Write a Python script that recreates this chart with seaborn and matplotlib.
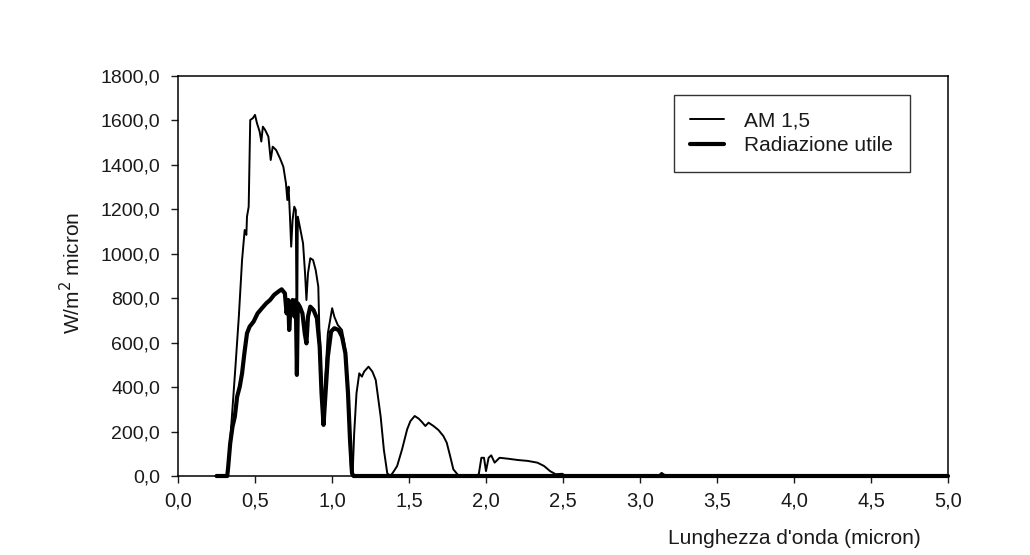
import numpy as np
import pandas as pd
import matplotlib
matplotlib.use("Agg")
import matplotlib.pyplot as plt
from matplotlib.ticker import FuncFormatter
import seaborn as sns

# Solar spectrum AM 1,5 (W/m^2 micron) against wavelength (micron)
am15_wl = [0.25, 0.30, 0.32, 0.33, 0.35, 0.373, 0.395, 0.416, 0.433, 0.444, 0.448, 0.459,
           0.469, 0.486, 0.50, 0.513, 0.530, 0.541, 0.551, 0.566, 0.587, 0.602, 0.615,
           0.637, 0.662, 0.684, 0.701, 0.71, 0.718, 0.727, 0.735, 0.744, 0.755, 0.765,
           0.772, 0.778, 0.791, 0.812, 0.825, 0.834, 0.844, 0.859, 0.877, 0.894, 0.911,
           0.924, 0.941, 0.954, 0.973, 1.001, 1.015, 1.037, 1.065, 1.091, 1.108, 1.123,
           1.134, 1.144, 1.159, 1.177, 1.194, 1.209, 1.237, 1.262, 1.284, 1.316, 1.337,
           1.359, 1.38, 1.402, 1.423, 1.455, 1.488, 1.509, 1.537, 1.563, 1.584, 1.606,
           1.627, 1.659, 1.691, 1.723, 1.745, 1.767, 1.788, 1.82, 1.86, 1.93, 1.953,
           1.970, 1.987, 2.0, 2.017, 2.034, 2.056, 2.088, 2.141, 2.206, 2.27, 2.334,
           2.377, 2.416, 2.452, 2.495, 2.52, 3.05, 3.12, 3.14, 3.17, 3.22, 5.0]
am15_val = [0, 0, 0, 72, 267, 492, 717, 972, 1107, 1085, 1167, 1212,
            1602, 1610, 1625, 1587, 1550, 1505, 1572, 1557, 1527, 1422, 1482,
            1467, 1430, 1392, 1317, 1242, 1302, 1167, 1032, 1152, 1212, 1197,
            462, 1167, 1122, 1047, 912, 792, 912, 980, 972, 927, 852,
            492, 252, 417, 642, 755, 717, 680, 657, 552, 267, 27,
            12, 192, 372, 462, 447, 470, 492, 470, 432, 267, 117,
            12, 0, 22, 45, 120, 210, 247, 270, 258, 243, 225,
            240, 225, 207, 180, 150, 90, 30, 3, 0, 0, 8,
            82, 82, 22, 82, 93, 60, 82, 78, 72, 68, 60,
            45, 22, 8, 10, 0, 0, 0, 14, 0, 0, 0]

# Useful radiation (W/m^2 micron)
util_wl = [0.25, 0.32, 0.326, 0.339, 0.354, 0.369, 0.384, 0.401, 0.416, 0.431, 0.448,
           0.465, 0.491, 0.517, 0.545, 0.573, 0.598, 0.624, 0.652, 0.673, 0.694,
           0.705, 0.716, 0.722, 0.731, 0.744, 0.757, 0.765, 0.772, 0.778, 0.791,
           0.808, 0.823, 0.834, 0.844, 0.859, 0.88, 0.902, 0.92, 0.932, 0.945,
           0.958, 0.973, 0.994, 1.015, 1.043, 1.065, 1.087, 1.104, 1.117, 1.13,
           1.14, 5.0]
util_val = [0, 0, 42, 147, 222, 267, 357, 402, 462, 552, 642,
            672, 695, 732, 755, 777, 792, 815, 830, 840, 822,
            732, 792, 657, 762, 792, 717, 792, 455, 777, 762,
            732, 642, 597, 717, 762, 747, 710, 582, 372, 230,
            372, 537, 650, 665, 657, 627, 552, 372, 162, 12,
            0, 0]

series_names = ["AM 1,5", "Radiazione utile"]
y_ticks = [0, 200, 400, 600, 800, 1000, 1200, 1400, 1600, 1800]
x_ticks = [0.0, 0.5, 1.0, 1.5, 2.0, 2.5, 3.0, 3.5, 4.0, 4.5, 5.0]

sns.set_theme(style="ticks")
plt.rcParams["font.family"] = ["Liberation Sans", "DejaVu Sans"]
ink = "#1a1a1a"
plt.rcParams["text.color"] = ink
plt.rcParams["axes.labelcolor"] = ink
plt.rcParams["xtick.color"] = ink
plt.rcParams["ytick.color"] = ink

fig = plt.figure(figsize=(10.3, 5.55), dpi=100)
fig.patch.set_facecolor("white")
ax = fig.add_axes([178 / 1030, 1 - 476 / 555, 770 / 1030, 400 / 555])
ax.set_facecolor("white")

am_df = pd.DataFrame({"wl": am15_wl, "val": am15_val})
ut_df = pd.DataFrame({"wl": util_wl, "val": util_val})

sns.lineplot(data=am_df, x="wl", y="val", ax=ax, color="black", linewidth=1.4,
             estimator=None, sort=False, label=series_names[0], clip_on=False)
sns.lineplot(data=ut_df, x="wl", y="val", ax=ax, color="black", linewidth=3.0,
             estimator=None, sort=False, label=series_names[1], clip_on=False)

ax.set_xlim(0, 5)
ax.set_ylim(0, 1800)
ax.set_xticks(x_ticks)
ax.set_yticks(y_ticks)

comma = FuncFormatter(lambda v, p: f"{v:.1f}".replace(".", ","))
ax.xaxis.set_major_formatter(comma)
ax.yaxis.set_major_formatter(comma)

for side in ["left", "right", "top", "bottom"]:
    ax.spines[side].set_visible(True)
    ax.spines[side].set_color("black")
    ax.spines[side].set_linewidth(1.1)

ax.tick_params(axis="both", direction="out", length=5, width=1.0, labelsize=14,
               colors=ink)
ax.tick_params(axis="x", pad=6, labelsize=14.5)
ax.tick_params(axis="y", pad=8)

ax.set_xlabel("Lunghezza d'onda (micron)", fontsize=15)
ax.xaxis.set_label_coords((794 - 178) / 770, (476 - 538) / 400)
ax.xaxis.label.set_va("center")
ax.xaxis.label.set_ha("center")

ax.set_ylabel("W/m$^2$ micron", fontsize=15)
ax.yaxis.set_label_coords((72 - 178) / 770, (476 - 273) / 400)
ax.yaxis.label.set_va("center")

leg = ax.legend(loc="upper right", bbox_to_anchor=((910 - 178) / 770, (476 - 95) / 400),
                borderaxespad=0, frameon=True, fancybox=False, shadow=False,
                fontsize=15, handlelength=1.6, handletextpad=1.0, borderpad=0.8,
                labelspacing=0.25)
leg.get_frame().set_edgecolor("#333333")
leg.get_frame().set_linewidth(1.0)
leg.get_frame().set_facecolor("white")
leg.get_frame().set_alpha(1)

fig.savefig("out.png", dpi=100, facecolor="white")
